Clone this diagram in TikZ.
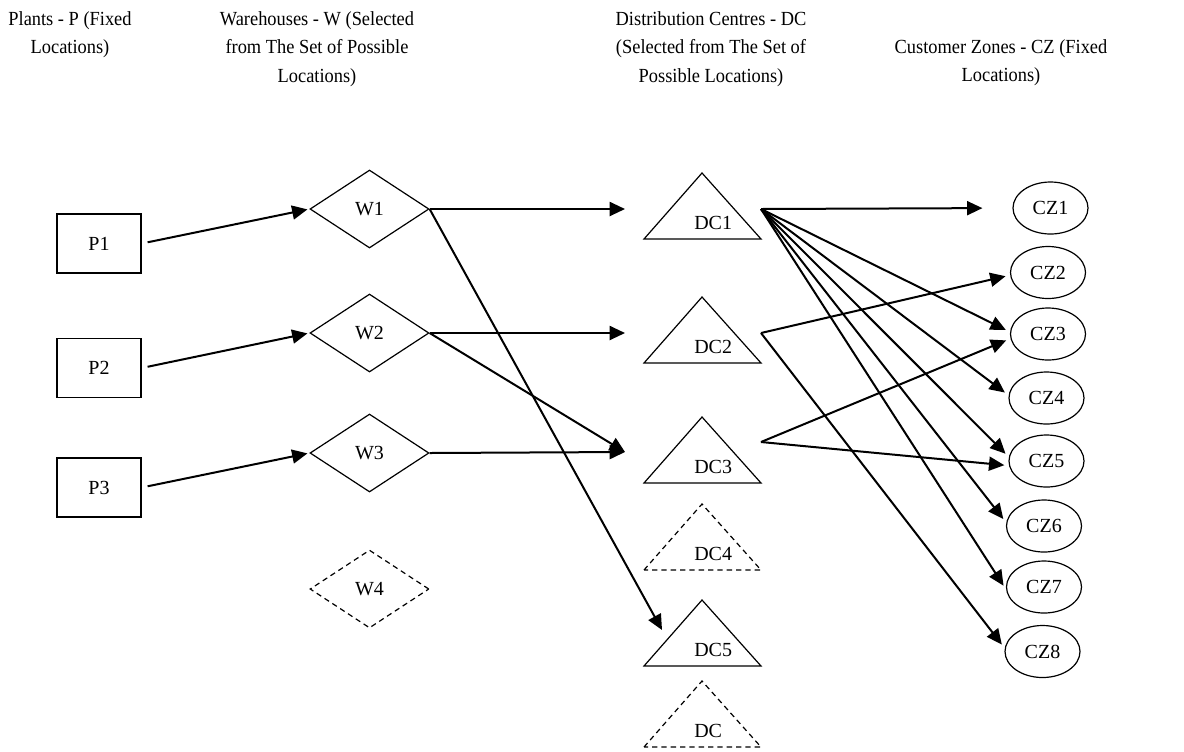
\documentclass[tikz,border=0pt]{standalone}
\usepackage{fontspec}
\setmainfont{Liberation Serif}
\newfontfamily\headfont[FakeStretch=0.92]{Liberation Serif}
\usetikzlibrary{arrows.meta,shapes.geometric}
\begin{document}
\begin{tikzpicture}[x=0.75pt,y=-0.75pt,
  every node/.style={font=\fontsize{15}{21.4}\selectfont},
  head/.style={align=center,anchor=north,inner sep=0pt,font=\headfont\fontsize{15}{21.4}\selectfont},
  plant/.style={draw,line width=1.1pt,minimum width=63pt,minimum height=44.25pt,inner sep=0pt},
  ware/.style={draw,diamond,aspect=1.53,line width=0.9pt,minimum width=89.25pt,minimum height=58.5pt,inner sep=0pt},
  zone/.style={draw,ellipse,line width=0.9pt,minimum width=56.25pt,minimum height=39pt,inner sep=0pt},
  tri/.style={line width=0.9pt,line join=miter},
  cand/.style={dash pattern=on 4pt off 3pt},
  dclabel/.style={anchor=west,inner sep=0pt},
  flow/.style={line width=1.5pt,-{Triangle[length=11.5pt,width=10.5pt]}},
  tozone/.style={flow,shorten >=3.5pt},
]
\useasboundingbox (0,0) rectangle (1184,751);

% column headings
\node[head] (hP)  at (70,11)   {Plants - P (Fixed\\Locations)};
\node[head] (hW)  at (317,11)  {Warehouses - W (Selected\\from The Set of Possible\\Locations)};
\node[head] (hDC) at (711,11)  {Distribution Centres - DC\\(Selected from The Set of\\Possible Locations)};
\node[head] (hCZ) at (1001,39) {Customer Zones - CZ (Fixed\\Locations)};

% plants
\node[plant] (P1) at (99,243.5) {P1};
\node[plant] (P2) at (99,368)   {P2};
\node[plant] (P3) at (99,487.5) {P3};

% warehouses
\node[ware] (W1) at (369.5,209) {W1};
\node[ware] (W2) at (369.5,333) {W2};
\node[ware] (W3) at (369.5,453) {W3};
\node[ware,cand] (W4) at (369.5,589) {W4};

% distribution centres (triangles, apex y given)
\foreach \n/\ay/\sty/\txt in {1/173/solid/DC1,2/297/solid/DC2,3/417/solid/DC3,4/504/cand/DC4,5/600/solid/DC5,6/681/cand/DC}{
  \draw[tri,\sty] (644,\ay+66) -- (702,\ay) -- (761,\ay+66) -- cycle;
  \node[dclabel] (DC\n) at (694,\ay+50) {\txt};
}

% connection points beside the triangles
\coordinate (dc1in)  at (625,209);
\coordinate (dc2in)  at (625,333);
\coordinate (dc3in)  at (625,452);
\coordinate (dc5in)  at (662,630);
\coordinate (dc1out) at (761,209);
\coordinate (dc2out) at (761,333);
\coordinate (dc3out) at (761,442);

% customer zones
\node[zone] (CZ1) at (1050.5,208)  {CZ1};
\node[zone] (CZ2) at (1048,272.5)  {CZ2};
\node[zone] (CZ3) at (1048,334)    {CZ3};
\node[zone] (CZ4) at (1046.5,398)  {CZ4};
\node[zone] (CZ5) at (1046.5,461)  {CZ5};
\node[zone] (CZ6) at (1044,526)    {CZ6};
\node[zone] (CZ7) at (1044,587)    {CZ7};
\node[zone] (CZ8) at (1042.5,651.5){CZ8};

% plants to warehouses
\foreach \i in {1,2,3}{
  \draw[flow,shorten <=4.5pt,shorten >=1.5pt] (P\i.east) -- (W\i.west);
}

% warehouses to distribution centres
\draw[flow] (W1.east) -- (dc1in);
\draw[flow] (W1.east) -- (dc5in);
\draw[flow] (W2.east) -- (dc2in);
\draw[flow] (W2.east) -- (dc3in);
\draw[flow] (W3.east) -- (dc3in);

% distribution centres to customer zones
\draw[flow,shorten >=22.5pt] (dc1out) -- (CZ1.west);
\draw[tozone] (dc1out) -- (CZ3.177);
\draw[tozone] (dc1out) -- (CZ4.176);
\draw[tozone] (dc1out) -- (CZ5.174);
\draw[tozone] (dc1out) -- (CZ6.175);
\draw[tozone] (dc1out) -- (CZ7.184);
\draw[tozone] (dc2out) -- (CZ2.184);
\draw[tozone] (dc2out) -- (CZ8.175);
\draw[tozone] (dc3out) -- (CZ3.187);
\draw[tozone] (dc3out) -- (CZ5.187);
\end{tikzpicture}
\end{document}
